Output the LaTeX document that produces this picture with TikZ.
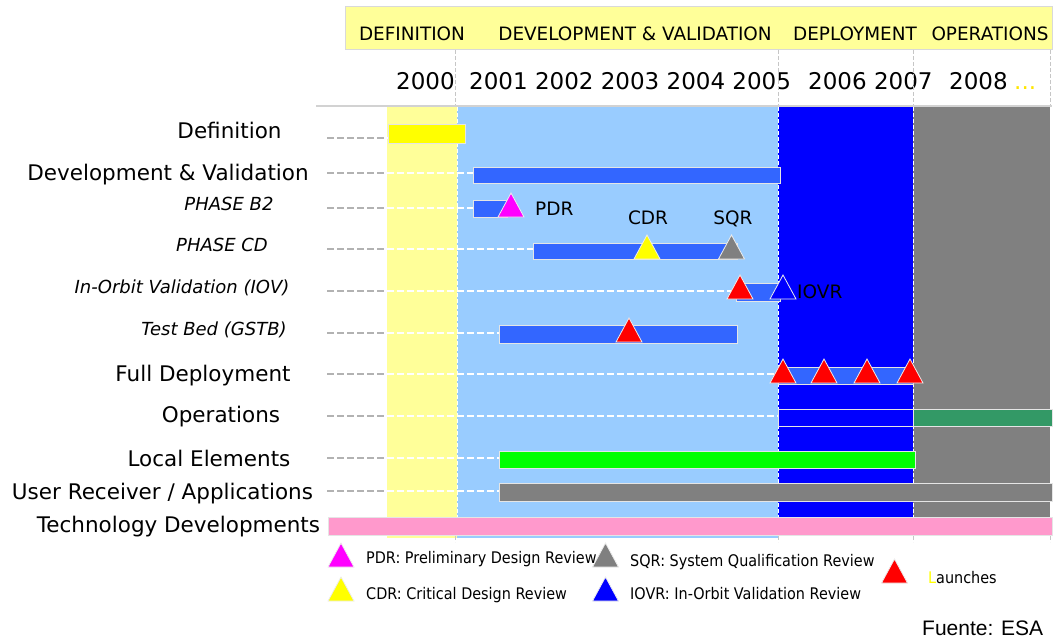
\documentclass[tikz,border=0pt]{standalone}
\usepackage{fontspec}
\setmainfont{DejaVu Sans}
\newfontfamily\legendfont{DejaVu Sans}[FakeStretch=0.9]
\newfontfamily\arialfont{Liberation Sans}
\definecolor{paleyellow}{HTML}{FFFF99}
\definecolor{barblue}{HTML}{3366FF}
\definecolor{deepblue}{HTML}{0000FF}
\definecolor{skyblue}{HTML}{99CCFF}
\definecolor{midgray}{HTML}{808080}
\definecolor{lime}{HTML}{00FF00}
\definecolor{seagreen}{HTML}{339966}
\definecolor{rosepink}{HTML}{FF99CC}
\definecolor{brightyellow}{HTML}{FFFF00}
\definecolor{magentapink}{HTML}{FF00FF}
\definecolor{brightred}{HTML}{FF0000}
\definecolor{dotyellow}{HTML}{FFE600}
\newcommand\milestone[3]{\draw[tri,fill=#3] ({#1-13},{#2}) -- ({#1},{#2-24}) -- ({#1+13},{#2}) -- cycle;}
\begin{document}
\begin{tikzpicture}[x=1pt,y=-1pt,
  phase/.style={font=\fontsize{18.4}{22}\selectfont, anchor=base, inner sep=0},
  year/.style={font=\fontsize{23}{27}\selectfont, anchor=base west, inner sep=0},
  rowlbl/.style={font=\fontsize{21.5}{25}\selectfont, anchor=base, inner sep=0},
  sublbl/.style={font=\fontsize{18}{22}\selectfont\itshape, anchor=base, inner sep=0},
  mslbl/.style={font=\fontsize{18.5}{22}\selectfont, anchor=base, inner sep=0},
  legtxt/.style={font=\legendfont\fontsize{16}{19}\selectfont, anchor=base west, inner sep=0},
  bar/.style={draw=white!80!gray, line width=0.8},
  tri/.style={draw=white!85!gray, line width=0.8, line join=miter},
  grayleader/.style={draw=gray!60, line width=1.1, dash pattern=on 7pt off 3pt},
  whiteleader/.style={draw=white, line width=1.1, dash pattern=on 7pt off 3pt},
  colsep/.style={draw=white, line width=1, dash pattern=on 4pt off 2pt},
  headsep/.style={draw=gray!45, line width=1, dash pattern=on 4pt off 2pt}]
\useasboundingbox (0,0) rectangle (1054,642);

% phase banner
\filldraw[fill=paleyellow, draw=gray!30, line width=1] (345,7) rectangle (1052,50);
\node[phase] (hdef) at (412,41) {DEFINITION};
\node[phase] (hdev) at (635,41) {DEVELOPMENT \& VALIDATION};
\node[phase] (hdep) at (855,41) {DEPLOYMENT};
\node[phase] (hops) at (990,41) {OPERATIONS};

% years
\node[year] (y2000) at (396,89) {2000};
\node[year] (y2001) at (469,89) {2001 2002 2003 2004 2005};
\node[year] (y2006) at (808,89) {2006 2007};
\node[year] (y2008) at (949,89) {2008};
\node[year, text=dotyellow] (ymore) at (1014,89) {...};

\foreach \xx in {455,778,913,1050} \draw[headsep] (\xx,50) -- (\xx,106);
\draw[gray!35, line width=1.2] (316,106) -- (1052,106);

% period columns
\fill[paleyellow] (387,107) rectangle (457,538);
\fill[skyblue] (457,107) rectangle (778,538);
\fill[deepblue] (778,107) rectangle (913,517);
\fill[midgray] (913,107) rectangle (1050,517);
\foreach \xx in {457,778,913,1050} \draw[colsep] (\xx,107) -- (\xx,536);
\foreach \xx in {455,778,913,1050} \draw[headsep] (\xx,536) -- (\xx,542);

% row labels
\node[rowlbl] (ldef) at (229.5,138) {Definition};
\node[rowlbl] (ldev) at (168,180) {Development \& Validation};
\node[sublbl] (lb2) at (229,210) {PHASE B2};
\node[sublbl] (lcd) at (222,251.5) {PHASE CD};
\node[sublbl] (liov) at (182,293.5) {In-Orbit Validation (IOV)};
\node[sublbl] (lgstb) at (214,335) {Test Bed (GSTB)};
\node[rowlbl] (lfull) at (203,381) {Full Deployment};
\node[rowlbl] (lops) at (221,422.5) {Operations};
\node[rowlbl] (lloc) at (209,466) {Local Elements};
\node[rowlbl] (luser) at (162.5,499) {User Receiver / Applications};
\node[rowlbl] (ltech) at (178.5,532.5) {Technology Developments};

% leader lines: gray over the margin, white over the columns
\foreach \yy/\xe in {138/400, 173/473, 208/473, 249/533, 291/736, 333/499, 374/778, 416/778, 458/499, 491/499} {
  \coordinate (ls) at (327,\yy);
  \coordinate (lm) at (387,\yy);
  \coordinate (le) at (\xe,\yy);
  \draw[grayleader] (ls) -- (lm);
  \draw[whiteleader] (lm) -- (le);
}

% activity bars
\filldraw[bar, fill=brightyellow] (388,124) rectangle (465,143);
\filldraw[bar, fill=barblue] (473,167) rectangle (780,183);
\filldraw[bar, fill=barblue] (473,200) rectangle (507,217);
\filldraw[bar, fill=barblue] (533,243) rectangle (737,259);
\filldraw[bar, fill=barblue] (736,283) rectangle (780,301);
\filldraw[bar, fill=barblue] (499,325) rectangle (737,343);
\filldraw[bar, fill=barblue] (778,367) rectangle (913,384);
\filldraw[bar, fill=deepblue] (778,409) rectangle (913,426);
\filldraw[bar, fill=seagreen] (913,409) rectangle (1052,426);
\filldraw[bar, fill=lime] (499,451) rectangle (915,468);
\filldraw[bar, fill=midgray] (499,483) rectangle (1052,501);
\filldraw[bar, fill=rosepink] (328,517) rectangle (1052,535);

% milestones
\milestone{511}{217}{magentapink}
\milestone{647}{259}{brightyellow}
\milestone{731.5}{259}{midgray}
\milestone{740}{299}{brightred}
\milestone{783}{299}{deepblue}
\milestone{629}{342}{brightred}
\foreach \xx in {783,824,867,910} {\milestone{\xx}{383}{brightred}}
\node[mslbl, anchor=base west] (mpdr) at (535,215) {PDR};
\node[mslbl] (mcdr) at (648,224) {CDR};
\node[mslbl] (msqr) at (733,224) {SQR};
\node[mslbl, anchor=base west] (miovr) at (797,298.5) {IOVR};

% legend
\milestone{341}{567}{magentapink}
\milestone{605.5}{567}{midgray}
\milestone{341}{601}{brightyellow}
\milestone{605.5}{601}{deepblue}
\milestone{894.5}{583}{brightred}
\node[legtxt] (gpdr) at (366,563) {PDR: Preliminary Design Review};
\node[legtxt] (gsqr) at (630,566) {SQR: System Qualification Review};
\node[legtxt] (gcdr) at (366,599) {CDR: Critical Design Review};
\node[legtxt] (giovr) at (630,599) {IOVR: In-Orbit Validation Review};
\node[legtxt] (glaunch) at (928,583) {\textcolor{brightyellow}{L}aunches};

\node[font=\arialfont\fontsize{21}{25}\selectfont, anchor=base west, inner sep=0] (src) at (922,635) {Fuente: ESA};
\end{tikzpicture}
\end{document}
